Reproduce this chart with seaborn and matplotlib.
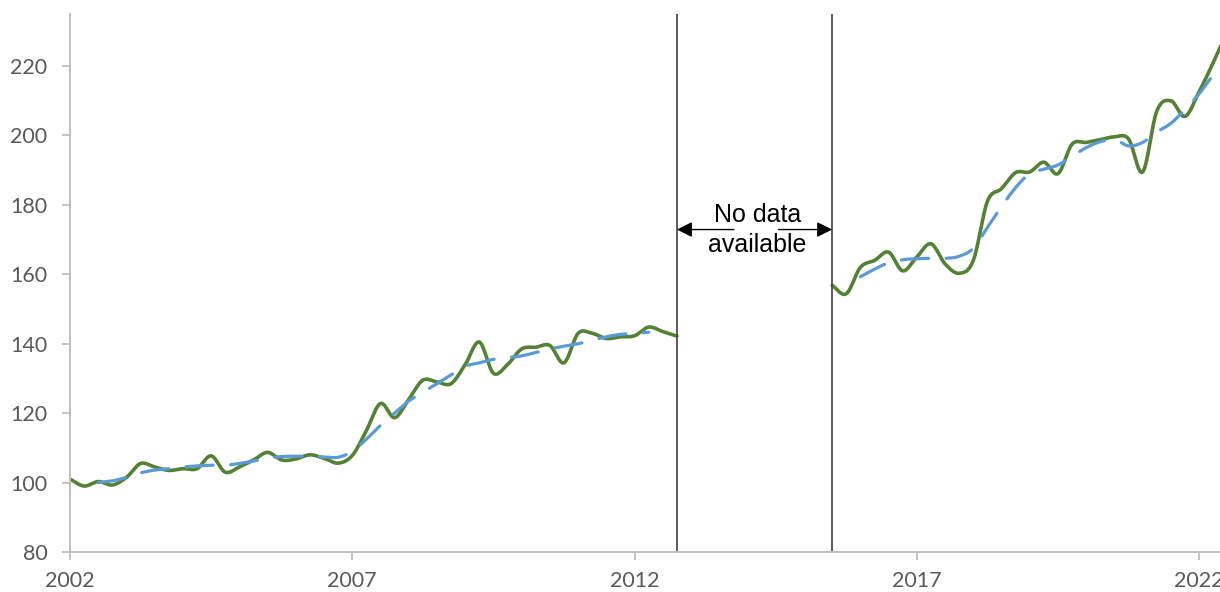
import numpy as np
import pandas as pd
import matplotlib
matplotlib.use("Agg")
import matplotlib.pyplot as plt
import seaborn as sns

# ---------------- data (quarterly index values) ----------------
seg1_start = 2002.0
green_seg1 = [101, 99, 100.3, 99.3,
              101.5, 105.5, 104.5, 103.5,
              104, 104, 107.7, 103,
              104.5, 106.5, 108.7, 106.5,
              106.8, 108, 107, 105.6,
              107.8, 115, 122.8, 118.7,
              124, 129.5, 129, 128.5,
              134, 140.5, 131.5, 134,
              138.5, 139, 139.5, 134.5,
              143, 143, 141.5, 142,
              142.3, 144.8, 143.5, 142.2]
seg2_start = 2015.5
green_seg2 = [156.8, 154.4,
              162, 164, 166.4, 161,
              165, 168.8, 163, 160.3,
              164, 181, 184.7, 189.3,
              189.5, 192.3, 189, 197.5,
              198, 198.8, 199.6, 199,
              189.5, 207, 210, 205.5,
              212.6, 221, 230]

blue_seg1_start = 2002.5
blue_seg1 = [100, 100.5,
             101.5, 102.8, 103.6, 104,
             104.5, 104.8, 105, 105,
             105.5, 106.2, 107, 107.5,
             107.6, 107.6, 107.4, 107.3,
             109, 112.5, 116.5, 120,
             123.5, 126, 128.5, 131,
             133.5, 134.5, 135.5, 136,
             136.5, 137.5, 138.5, 139.3,
             140, 141, 142, 142.7,
             143, 143.3]
blue_seg2_start = 2016.0
blue_seg2 = [159.3, 161.5, 163.3, 164.2,
             164.5, 164.6, 164.6, 165.2,
             167.5, 173.5, 179.5, 185,
             189, 190.3, 191.5, 194,
             196.5, 198.2, 198.8, 197,
             198, 201, 203.5, 207.5,
             212, 217.5]

gap_start, gap_end = 2012.75, 2015.5
x_ticks = [2002, 2007, 2012, 2017, 2022]
y_ticks = [80, 100, 120, 140, 160, 180, 200, 220]
annotation_lines = ["No data", "available"]

GREEN = "#548235"
BLUE = "#5B9BD5"
GREY_TXT = "#595959"
GREY_AX = "#BFBFBF"


def quarters(start, vals):
    return start + 0.25 * np.arange(len(vals))


def smooth(x, y, n=16):
    """Catmull-Rom rendering of a line through the given points (like a smoothed line)."""
    P = np.column_stack([x, y]).astype(float)
    P = np.vstack([2 * P[0] - P[1], P, 2 * P[-1] - P[-2]])
    t = np.linspace(0, 1, n, endpoint=False)[:, None]
    out = []
    for i in range(1, len(P) - 2):
        p0, p1, p2, p3 = P[i - 1], P[i], P[i + 1], P[i + 2]
        pts = 0.5 * ((2 * p1) + (-p0 + p2) * t + (2 * p0 - 5 * p1 + 4 * p2 - p3) * t ** 2
                     + (-p0 + 3 * p1 - 3 * p2 + p3) * t ** 3)
        out.append(pts)
    out.append(P[-2][None, :])
    a = np.vstack(out)
    return pd.DataFrame({"x": a[:, 0], "y": a[:, 1]})


sns.set_theme(style="white")
plt.rcParams["font.family"] = ["Lato", "DejaVu Sans"]

fig = plt.figure(figsize=(12.2, 5.92), dpi=100)
ax = fig.add_axes([70 / 1220, 1 - 552 / 592, 1 - 70 / 1220, (552 - 14) / 592])

for start, vals in [(seg1_start, green_seg1), (seg2_start, green_seg2)]:
    d = smooth(quarters(start, vals), vals)
    sns.lineplot(data=d, x="x", y="y", ax=ax, color=GREEN, lw=2.6,
                 sort=False, estimator=None, solid_capstyle="round")

for start, vals in [(blue_seg1_start, blue_seg1), (blue_seg2_start, blue_seg2)]:
    d = smooth(quarters(start, vals), vals)
    line = sns.lineplot(data=d, x="x", y="y", ax=ax, color=BLUE, lw=2.3,
                        sort=False, estimator=None).lines[-1]
    line.set_dashes([8.5, 5.5])
    line.set_dash_capstyle("round")

ax.axvline(gap_start, color="#4D4D4D", lw=1.3)
ax.axvline(gap_end, color="#4D4D4D", lw=1.3)

arrow_y = 172.9
ax.annotate("", xy=(gap_start, arrow_y), xytext=(2013.76, arrow_y),
            arrowprops=dict(arrowstyle="-|>", color="black", lw=1.0,
                            mutation_scale=23, shrinkA=0, shrinkB=0))
ax.annotate("", xy=(gap_end, arrow_y), xytext=(2014.55, arrow_y),
            arrowprops=dict(arrowstyle="-|>", color="black", lw=1.0,
                            mutation_scale=23, shrinkA=0, shrinkB=0))
text_x = 2014.18
for txt, yb in zip(annotation_lines, [175.16, 166.52]):
    ax.text(text_x, yb, txt, ha="center", va="baseline",
            fontsize=18, family="Liberation Sans", color="black")

ax.set_xlim(2002, 2022.37)
ax.set_ylim(80, 235)
ax.set_xticks(x_ticks)
ax.set_yticks(y_ticks)
ax.set_xticklabels([str(v) for v in x_ticks])
ax.set_yticklabels([str(v) for v in y_ticks])
ax.set_xlabel("")
ax.set_ylabel("")
ax.tick_params(axis="x", length=5.8, width=1.3, color=GREY_AX, labelsize=15.5,
               labelcolor=GREY_TXT, pad=8, direction="out", bottom=True)
ax.tick_params(axis="y", length=5.8, width=1.3, color=GREY_AX, labelsize=15.5,
               labelcolor=GREY_TXT, pad=10.5, direction="out", left=True)
for s in ["top", "right"]:
    ax.spines[s].set_visible(False)
for s in ["left", "bottom"]:
    ax.spines[s].set_color(GREY_AX)
    ax.spines[s].set_linewidth(1.4)
ax.grid(False)

fig.savefig("out.png", dpi=100)
